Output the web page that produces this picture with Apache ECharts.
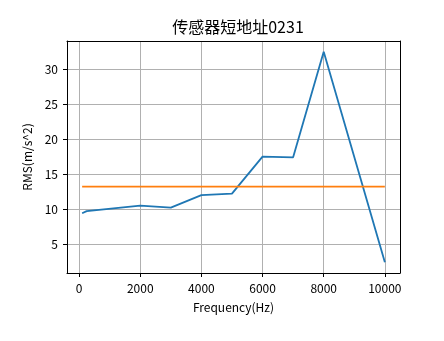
<!DOCTYPE html>
<html>
<head>
<meta charset="utf-8">
<script src="https://cdn.jsdelivr.net/npm/echarts@6/dist/echarts.min.js"></script>
<style>
  html, body { margin: 0; background: #fff; }
  #chart { width: 444px; height: 341px; }
</style>
</head>
<body>
<div id="chart"></div>
<script>
// data
const freq = [100, 250, 2000, 3000, 4000, 5000, 6000, 7000, 8000, 10000]
const rms = [9.4, 9.7, 10.5, 10.2, 12.0, 12.2, 17.5, 17.4, 32.5, 2.4]
const limitFreq = [100, 10000]
const limitRms = [13.2, 13.2]
const xTicks = [0, 2000, 4000, 6000, 8000, 10000]
const yTicks = [5, 10, 15, 20, 25, 30]

const font = 'Noto Sans CJK SC'
const xMin = -395, xMax = 10495
const yMin = 0.85, yMax = 34.05

const frameAxis = {
  axisLine: { show: true, onZero: false, lineStyle: { color: '#000', width: 1 } },
  axisTick: { show: false },
  axisLabel: { show: false },
  splitLine: { show: false }
}

const option = {
  animation: false,
  backgroundColor: '#fff',
  title: {
    text: '传感器短地址0231',
    left: 233,
    textAlign: 'center',
    top: 14,
    textStyle: { fontFamily: font, fontSize: 16, fontWeight: 'normal', color: '#000' }
  },
  grid: { left: 67, right: 44, top: 41, bottom: 68 },
  xAxis: [{
    type: 'value',
    min: xMin,
    max: xMax,
    name: 'Frequency(Hz)',
    nameLocation: 'middle',
    nameGap: 28,
    nameTextStyle: { fontFamily: font, fontSize: 12, color: '#000' },
    axisLine: { show: true, onZero: false, lineStyle: { color: '#000', width: 1 } },
    axisTick: { show: true, inside: false, length: 4, customValues: xTicks, lineStyle: { color: '#000' } },
    axisLabel: { customValues: xTicks, formatter: v => String(v), margin: 9, fontFamily: font, fontSize: 12, color: '#000' },
    splitLine: { show: true, lineStyle: { color: '#b0b0b0', width: 1 } }
  }, Object.assign({ type: 'value', position: 'top', min: xMin, max: xMax }, frameAxis)],
  yAxis: [{
    type: 'value',
    min: yMin,
    max: yMax,
    name: 'RMS(m/s^2)',
    nameLocation: 'middle',
    nameGap: 33,
    nameTextStyle: { fontFamily: font, fontSize: 12, color: '#000' },
    axisLine: { show: true, onZero: false, lineStyle: { color: '#000', width: 1 } },
    axisTick: { show: true, inside: false, length: 4, customValues: yTicks, lineStyle: { color: '#000' } },
    axisLabel: { customValues: yTicks, formatter: v => String(v), margin: 9, fontFamily: font, fontSize: 12, color: '#000' },
    splitLine: { show: true, lineStyle: { color: '#b0b0b0', width: 1 } }
  }, Object.assign({ type: 'value', position: 'right', min: yMin, max: yMax }, frameAxis)],
  series: [{
    type: 'line',
    data: freq.map((f, i) => [f, rms[i]]),
    showSymbol: false,
    lineStyle: { color: '#1f77b4', width: 1.8 },
    z: 3
  }, {
    type: 'line',
    data: limitFreq.map((f, i) => [f, limitRms[i]]),
    showSymbol: false,
    lineStyle: { color: '#ff7f0e', width: 1.8 },
    z: 4
  }]
}

const chart = echarts.init(document.getElementById('chart'))
chart.setOption(option)
</script>
</body>
</html>
